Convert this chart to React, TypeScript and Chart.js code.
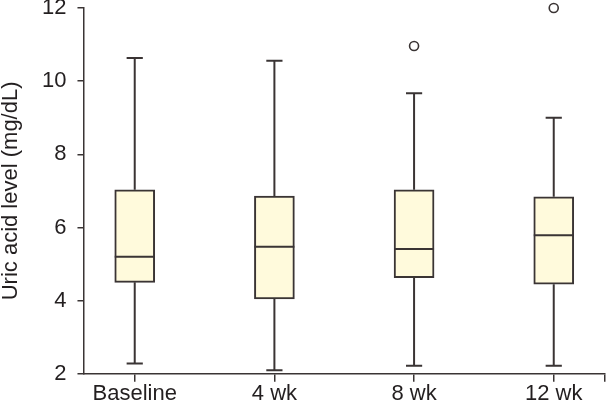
import React, { useEffect, useRef } from 'react';
import { Chart, registerables } from 'chart.js';

Chart.register(...registerables);

// ---- data ----
const categories = ['Baseline', '4 wk', '8 wk', '12 wk'];
const whiskerLow = [2.28, 2.1, 2.22, 2.22];
const q1 = [4.5, 4.05, 4.63, 4.45];
const median = [5.2, 5.47, 5.41, 5.79];
const q3 = [7.03, 6.86, 7.03, 6.84];
const whiskerHigh = [10.63, 10.56, 9.67, 9.0];
const outliers: number[][] = [[], [], [10.96], [12.0]];
const yTicks = [2, 4, 6, 8, 10, 12];

// ---- styling constants ----
const LINE = '#3a3434';
const TEXT = '#231f20';
const FILL = '#fffadc';
const FONT = '"Liberation Sans", Arial, sans-serif';
const BOX_HALF = 0.143; // half box width in category units
const CAP_HALF = 0.058;
const X_MIN = -0.367;
const X_MAX = 3.367;

export default function App() {
  const ref = useRef<HTMLCanvasElement>(null);

  useEffect(() => {
    document.body.style.margin = '0';
    const ctx = ref.current!;

    const whiskers: any[] = [];
    const caps: any[] = [];
    const medians: any[] = [];
    categories.forEach((_, i) => {
      whiskers.push({ x: i, y: whiskerHigh[i] }, { x: i, y: q3[i] }, { x: i, y: null });
      whiskers.push({ x: i, y: q1[i] }, { x: i, y: whiskerLow[i] }, { x: i, y: null });
      caps.push({ x: i - CAP_HALF, y: whiskerHigh[i] }, { x: i + CAP_HALF, y: whiskerHigh[i] }, { x: i, y: null });
      caps.push({ x: i - CAP_HALF, y: whiskerLow[i] }, { x: i + CAP_HALF, y: whiskerLow[i] }, { x: i, y: null });
      medians.push({ x: i - BOX_HALF, y: median[i] }, { x: i + BOX_HALF, y: median[i] }, { x: i, y: null });
    });
    const outlierPts: any[] = [];
    outliers.forEach((arr, i) => arr.forEach((v) => outlierPts.push({ x: i, y: v })));

    const lineDs = (data: any[]) => ({
      type: 'line' as const,
      data,
      borderColor: LINE,
      borderWidth: 2,
      pointRadius: 0,
      spanGaps: false,
      fill: false,
      order: 1,
    });

    const chart = new Chart(ctx, {
      type: 'bar',
      data: {
        datasets: [
          {
            type: 'bar',
            data: categories.map((_, i) => ({ x: i, y: [q1[i], q3[i]] })) as any,
            backgroundColor: FILL,
            borderColor: LINE,
            borderWidth: 2,
            borderSkipped: false,
            barThickness: 40,
            order: 2,
          } as any,
          lineDs(whiskers),
          lineDs(caps),
          lineDs(medians),
          {
            type: 'scatter',
            data: outlierPts,
            pointStyle: 'circle',
            pointRadius: 4.5,
            pointBorderWidth: 1.6,
            pointBorderColor: LINE,
            pointBackgroundColor: '#ffffff',
            clip: false,
            order: 0,
          } as any,
        ],
      },
      options: {
        responsive: false,
        animation: false,
        layout: { autoPadding: false, padding: { left: 0, right: 2, top: 0, bottom: 0 } },
        plugins: { legend: { display: false }, tooltip: { enabled: false } },
        scales: {
          x: {
            type: 'linear',
            min: X_MIN,
            max: X_MAX,
            offset: false,
            afterBuildTicks: (scale: any) => {
              scale.ticks = [...categories.map((_, i) => ({ value: i })), { value: X_MAX }];
            },
            afterFit: (scale: any) => {
              scale.paddingLeft = 0;
              scale.paddingRight = 0;
            },
            ticks: {
              autoSkip: false,
              maxRotation: 0,
              padding: 0,
              color: TEXT,
              font: { family: FONT, size: 22, lineHeight: 1.1 },
              callback: (v: any) => (Number.isInteger(v) && categories[v] !== undefined ? categories[v] : ''),
            },
            grid: { offset: false, drawOnChartArea: false, drawTicks: true, tickLength: 8, color: LINE, lineWidth: 1.5 },
            border: { display: true, color: LINE, width: 1.5 },
          },
          y: {
            type: 'linear',
            min: 2,
            max: 12,
            afterBuildTicks: (scale: any) => {
              scale.ticks = yTicks.map((v) => ({ value: v }));
            },
            afterFit: (scale: any) => {
              scale.paddingTop = 8;
              scale.paddingBottom = 0;
            },
            ticks: {
              padding: 11,
              color: TEXT,
              font: { family: FONT, size: 22 },
            },
            grid: { offset: false, drawOnChartArea: false, drawTicks: true, tickLength: 6, color: LINE, lineWidth: 1.5 },
            border: { display: true, color: LINE, width: 1.5 },
            title: {
              display: true,
              text: 'Uric acid level (mg/dL)',
              color: TEXT,
              font: { family: FONT, size: 22, lineHeight: 1 },
              padding: { top: 0, bottom: 9 },
            },
          },
        },
      },
    } as any);

    return () => chart.destroy();
  }, []);

  return (
    <div style={{ width: 607, height: 406 }}>
      <canvas ref={ref} width={607} height={406} />
    </div>
  );
}
